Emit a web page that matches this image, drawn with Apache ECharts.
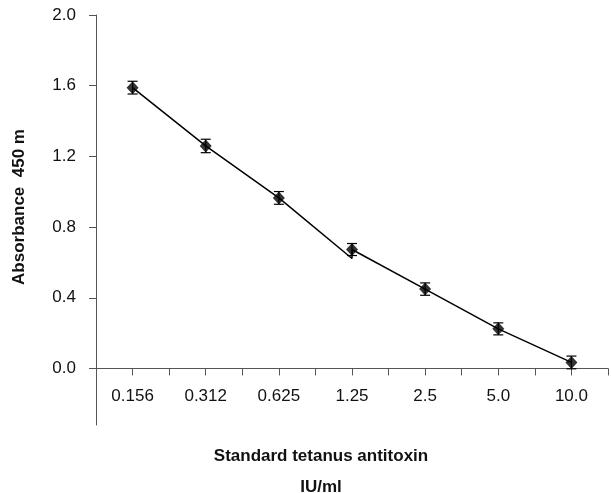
<!DOCTYPE html>
<html>
<head>
<meta charset="utf-8">
<script src="https://cdn.jsdelivr.net/npm/echarts@6/dist/echarts.min.js"></script>
<style>
html,body{margin:0;padding:0;background:#fff;}
#chart{width:611px;height:493px;}
</style>
</head>
<body>
<div id="chart"></div>
<script>
// Data
const categories = ['0.156', '0.312', '0.625', '1.25', '2.5', '5.0', '10.0'];
const absorbance = [1.589, 1.259, 0.965, 0.673, 0.449, 0.224, 0.034];
const errors = [0.036, 0.038, 0.036, 0.034, 0.035, 0.034, 0.036];
// drawn connecting line (has a small dip at 1.25 in the original)
const lineCategoryIndex = [0, 1, 2, 3, 3, 4, 5, 6];
const lineValues = [1.589, 1.259, 0.965, 0.622, 0.673, 0.449, 0.224, 0.034];
const yTickValues = [0, 0.4, 0.8, 1.2, 1.6, 2.0];
const yTitle = 'Absorbance  450 m';
const xTitle1 = 'Standard tetanus antitoxin';
const xTitle2 = 'IU/ml';

const FONT = '"Liberation Sans", Arial, sans-serif';
const Y_MIN = -0.32, Y_MAX = 2.0;
const GRID_TOP = 15, GRID_BOTTOM = 68, H = 493;
const plotH = H - GRID_TOP - GRID_BOTTOM;
// shift the x axis up so that it sits at y = 0
const xAxisOffset = -plotH * (0 - Y_MIN) / (Y_MAX - Y_MIN);

const chart = echarts.init(document.getElementById('chart'), null, {renderer: 'canvas'});

const pointData = absorbance.map((v, i) => [i + 0.5, v]);
const lineData = lineValues.map((v, i) => [lineCategoryIndex[i] + 0.5, v]);
const errData = absorbance.map((v, i) => [i + 0.5, v - errors[i], v + errors[i]]);

chart.setOption({
  animation: false,
  backgroundColor: '#ffffff',
  grid: {left: 96, right: 0, top: GRID_TOP, bottom: GRID_BOTTOM, containLabel: false},
  xAxis: {
    type: 'value',
    min: 0, max: 7, interval: 0.5,
    offset: xAxisOffset,
    axisLine: {onZero: false, lineStyle: {color: '#555', width: 1}},
    axisTick: {show: true, length: 7, lineStyle: {color: '#555'}},
    splitLine: {show: false},
    axisLabel: {
      margin: 19,
      color: '#111',
      fontSize: 17,
      fontFamily: FONT,
      showMinLabel: true, showMaxLabel: true,
      formatter: function (v) {
        const k = v - 0.5;
        if (Math.abs(k - Math.round(k)) < 1e-6 && Math.round(k) >= 0 && Math.round(k) < categories.length) {
          return categories[Math.round(k)];
        }
        return '';
      }
    }
  },
  yAxis: {
    type: 'value',
    min: Y_MIN, max: Y_MAX,
    axisLine: {show: true, onZero: false, lineStyle: {color: '#555', width: 1}},
    axisTick: {show: true, length: 7, lineStyle: {color: '#555'}, customValues: yTickValues},
    splitLine: {show: false},
    axisLabel: {
      margin: 20,
      color: '#111',
      fontSize: 17,
      fontFamily: FONT,
      customValues: yTickValues,
      formatter: v => v.toFixed(1)
    }
  },
  graphic: [
    {type: 'text', x: 19, y: 207, rotation: Math.PI / 2,
     style: {text: yTitle, font: 'bold 17px ' + FONT, fill: '#111', align: 'center', verticalAlign: 'middle'}},
    {type: 'text', x: 321, y: 456,
     style: {text: xTitle1, font: 'bold 17px ' + FONT, fill: '#111', align: 'center', verticalAlign: 'middle'}},
    {type: 'text', x: 321, y: 487,
     style: {text: xTitle2, font: 'bold 17px ' + FONT, fill: '#111', align: 'center', verticalAlign: 'middle'}}
  ],
  series: [
    {
      type: 'line',
      data: lineData,
      symbol: 'none',
      lineStyle: {color: '#000', width: 1.5},
      z: 2
    },
    {
      type: 'custom',
      data: errData,
      z: 3,
      renderItem: function (params, api) {
        const x = api.value(0);
        const lo = api.coord([x, api.value(1)]);
        const hi = api.coord([x, api.value(2)]);
        const w = 5;
        const style = {stroke: '#000', lineWidth: 1.2};
        return {
          type: 'group',
          children: [
            {type: 'line', shape: {x1: lo[0], y1: lo[1], x2: hi[0], y2: hi[1]}, style: style},
            {type: 'line', shape: {x1: hi[0] - w, y1: hi[1], x2: hi[0] + w, y2: hi[1]}, style: style},
            {type: 'line', shape: {x1: lo[0] - w, y1: lo[1], x2: lo[0] + w, y2: lo[1]}, style: style}
          ]
        };
      }
    },
    {
      type: 'scatter',
      data: pointData,
      symbol: 'diamond',
      symbolSize: [12, 13],
      itemStyle: {color: '#000'},
      z: 4
    }
  ]
});
</script>
</body>
</html>
